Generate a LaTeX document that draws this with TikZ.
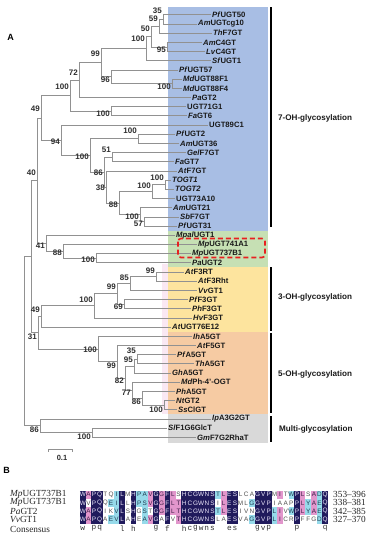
\documentclass[tikz,border=0pt]{standalone}
\usepackage{fontspec}
\setmainfont{Liberation Sans}
\newfontfamily\alnfont{Liberation Serif}
\newfontfamily\cnsfont{Liberation Mono}
\usetikzlibrary{calc}
\definecolor{brc}{RGB}{145,145,145}
\definecolor{leafc}{RGB}{25,25,25}
\definecolor{bsc}{RGB}{45,45,45}
\definecolor{bgblue}{RGB}{168,190,228}
\definecolor{bggreen}{RGB}{198,224,180}
\definecolor{bgyellow}{RGB}{253,228,158}
\definecolor{bgpeach}{RGB}{246,203,163}
\definecolor{bggray}{RGB}{217,217,217}
\definecolor{bgpink}{RGB}{250,232,243}
\definecolor{boxred}{RGB}{232,32,32}
\definecolor{fN}{RGB}{32,26,92}
\definecolor{fP}{RGB}{226,150,204}
\definecolor{fC}{RGB}{150,218,234}
\definecolor{fW}{RGB}{255,255,255}
\definecolor{tN}{RGB}{235,230,250}
\definecolor{tP}{RGB}{60,30,70}
\definecolor{tC}{RGB}{30,60,80}
\definecolor{tW}{RGB}{80,80,80}
\newcommand\spc[1]{\textit{#1}}
\newcommand\inode[4]{\path let \p1=(#3), \p2=(#4) in ({#2pt},{0.5*\y1+0.5*\y2}) coordinate (#1);}
\newcommand\trnode[4]{\inode{#1}{#2}{#3}{#4}\draw[br] (#1) |- (#3) (#1) |- (#4);}
\newcommand\leafn[4]{\coordinate (l#1) at (#2,#3); \node[leaf] (t#1) at (l#1) {#4};}
\newcommand\bsl[4]{\node[bs] (b#1) at (#2 |- 0,#3) {#4};}
\newcommand\alnrow[3]{%
  \foreach \resl/\resc [count=\resi] in {#3}{%
    \fill[f\resc] ({80+(\resi-1)*5.636},#2) rectangle ({80+\resi*5.636+0.12},{#2+8.37});
    \node[res, text=t\resc] (a#1c\resi) at ({80+(\resi-0.5)*5.636},{#2+4.2}) {\resl};
  }}
\begin{document}
\begin{tikzpicture}[x=1pt,y=-1pt,
  br/.style={draw=brc,line width=0.75pt},
  leaf/.style={anchor=west,inner sep=0pt,xshift=1pt,text=leafc,font=\fontsize{7.7}{8}\selectfont\bfseries},
  bs/.style={anchor=east,inner sep=0pt,xshift=-1pt,text=bsc,font=\fontsize{8}{8}\selectfont\bfseries},
  grp/.style={anchor=west,inner sep=0pt,text=leafc,font=\fontsize{8.1}{9}\selectfont\bfseries},
  bar/.style={fill=black},
  res/.style={inner sep=0pt,anchor=center,font=\fontsize{6.4}{6.4}\selectfont},
  alnlab/.style={anchor=west,inner sep=0pt,text=black!85,font=\alnfont\fontsize{9.3}{9.5}\selectfont},
  cns/.style={inner sep=0pt,anchor=center,text=black!80,font=\cnsfont\fontsize{7.8}{8}\selectfont}]
\useasboundingbox (0,0) rectangle (373,550);
\fill[white] (0,0) rectangle (373,550);
% coloured bands
\fill[bgblue] (168,7.3) rectangle (268,230.6);
\fill[bggreen] (168,230.6) rectangle (268,267.4);
\fill[bgyellow] (168,267.4) rectangle (268,331.7);
\fill[bgpeach] (168,331.7) rectangle (268,414.4);
\fill[bggray] (168,414.4) rectangle (268,443);
\fill[bgpink] (162,264) rectangle (168,414.4);
% group bars
\fill[bar] (269.5,7.3) rectangle (271.5,227);
\fill[bar] (269.5,267.4) rectangle (271.5,330.5);
\fill[bar] (269.5,333) rectangle (271.5,413);
\fill[bar] (269.5,416) rectangle (271.5,442);
\node[grp] (g7) at (278,118) {7-OH-glycosylation};
\node[grp] (g3) at (278,297) {3-OH-glycosylation};
\node[grp] (g5) at (278,374) {5-OH-glycosylation};
\node[grp] (gm) at (279,429) {Multi-glycosylation};
% leaves
\leafn{1}{211}{14.8}{\spc{Pf}UGT50}
\leafn{2}{197}{24.0}{\spc{Am}UGTcg10}
\leafn{3}{212}{33.2}{\spc{Th}F7GT}
\leafn{4}{202}{42.4}{\spc{Am}C4GT}
\leafn{5}{205}{51.5}{\spc{Lv}C4GT}
\leafn{6}{211}{60.7}{\spc{Sf}UGT1}
\leafn{7}{178}{69.9}{\spc{Pf}UGT57}
\leafn{8}{182}{79.1}{\spc{Md}UGT88F1}
\leafn{9}{182}{88.3}{\spc{Md}UGT88F4}
\leafn{10}{191}{97.5}{\spc{Pa}GT2}
\leafn{11}{186}{106.7}{UGT71G1}
\leafn{12}{187}{115.8}{\spc{Fa}GT6}
\leafn{13}{208}{125.0}{UGT89C1}
\leafn{14}{175}{134.2}{\spc{Pf}UGT2}
\leafn{15}{179}{143.4}{\spc{Am}UGT36}
\leafn{16}{186}{152.6}{\spc{Gel}F7GT}
\leafn{17}{174}{161.8}{\spc{Fa}GT7}
\leafn{18}{177}{170.9}{\spc{At}F7GT}
\leafn{19}{171}{180.1}{\spc{TOGT1}}
\leafn{20}{174}{189.3}{\spc{TOGT2}}
\leafn{21}{175}{198.5}{UGT73A10}
\leafn{22}{172}{207.7}{\spc{Am}UGT21}
\leafn{23}{179}{216.9}{\spc{Sb}F7GT}
\leafn{24}{177}{226.1}{\spc{Pf}UGT31}
\leafn{25}{175}{235.2}{\spc{Mpal}UGT1}
\leafn{26}{197}{244.4}{\spc{Mp}UGT741A1}
\leafn{27}{191}{253.6}{\spc{Mp}UGT737B1}
\leafn{28}{191}{262.8}{\spc{Pa}UGT2}
\leafn{29}{184}{272.0}{\spc{At}F3RT}
\leafn{30}{197}{281.2}{\spc{At}F3Rht}
\leafn{31}{197}{290.4}{\spc{Vv}GT1}
\leafn{32}{188}{299.5}{\spc{Pf}F3GT}
\leafn{33}{191}{308.7}{\spc{Ph}F3GT}
\leafn{34}{192}{317.9}{\spc{Hv}F3GT}
\leafn{35}{171}{327.1}{\spc{At}UGT76E12}
\leafn{36}{192}{336.3}{\spc{Ih}A5GT}
\leafn{37}{196}{345.5}{\spc{At}F5GT}
\leafn{38}{176}{354.7}{\spc{Pf}A5GT}
\leafn{39}{194}{363.8}{\spc{Th}A5GT}
\leafn{40}{171}{373.0}{\spc{Gh}A5GT}
\leafn{41}{180}{382.2}{\spc{Md}Ph-4’-OGT}
\leafn{42}{175}{391.4}{\spc{Ph}A5GT}
\leafn{43}{175}{400.6}{\spc{Nt}GT2}
\leafn{44}{177}{409.8}{\spc{Ss}ClGT}
\leafn{45}{211}{419.0}{\spc{Ip}A3G2GT}
\leafn{46}{167}{428.1}{\spc{Sl}F1G6GlcT}
\leafn{47}{196}{437.3}{\spc{Gm}F7G2RhaT}
% tree
\trnode{n35}{163}{l1}{l2}
\trnode{n59}{159}{n35}{l3}
\trnode{n95a}{167}{l4}{l5}
\trnode{n50}{151}{n59}{n95a}
\trnode{n100a}{146}{n50}{l6}
\trnode{n100b}{172}{l8}{l9}
\trnode{n96}{111}{l7}{n100b}
\trnode{n99a}{101}{n100a}{n96}
\trnode{n72}{79}{n99a}{l10}
\trnode{n100d}{111}{l11}{l12}
\trnode{n100c}{70}{n72}{n100d}
\trnode{n100f}{138}{l14}{l15}
\trnode{n51}{112}{l16}{l17}
\trnode{n100g}{165}{l19}{l20}
\trnode{n100h}{152}{n100g}{l21}
\trnode{n57}{144}{l23}{l24}
\trnode{n100i}{140}{l22}{n57}
\trnode{n88}{119}{n100h}{n100i}
\trnode{n38}{106}{l18}{n88}
\trnode{n86}{104}{n51}{n38}
\trnode{n100e}{90}{n100f}{n86}
\trnode{n94}{61}{l13}{n100e}
\trnode{n49}{41}{n100c}{n94}
\trnode{n100j}{96}{l27}{l28}
\trnode{n88b}{63}{l26}{n100j}
\trnode{n41}{46}{l25}{n88b}
\trnode{na40}{37}{n49}{n41}
\trnode{n99x}{156}{l29}{l30}
\trnode{n85}{130}{n99x}{l31}
\trnode{n69}{124}{l32}{l33}
\trnode{n99b}{117}{n85}{n69}
\trnode{n100o}{94}{n99b}{l34}
\trnode{n49b}{41}{n100o}{l35}
\trnode{n35b}{137}{l38}{l39}
\trnode{n95}{134}{n35b}{l40}
\trnode{n100k}{164}{l43}{l44}
\trnode{n86b}{142}{l42}{n100k}
\trnode{n77}{132}{l41}{n86b}
\trnode{n82}{125}{n95}{n77}
\trnode{n99c}{117}{l37}{n82}
\trnode{n100p}{98}{l36}{n99c}
\trnode{n31}{38}{n49b}{n100p}
\trnode{nb}{31}{na40}{n31}
\trnode{n100m}{92}{l46}{l47}
\trnode{n86c}{40}{l45}{n100m}
\trnode{root}{24}{nb}{n86c}
% bootstrap values
\bsl{1}{n35}{10.7}{35}
\bsl{2}{n59}{19}{59}
\bsl{3}{n50}{29}{50}
\bsl{4}{n100a}{39}{100}
\bsl{5}{n95a}{50}{95}
\bsl{6}{n99a}{54}{99}
\bsl{7}{n96}{80}{96}
\bsl{8}{n100b}{87}{100}
\bsl{9}{n72}{73}{72}
\bsl{10}{n100c}{87}{100}
\bsl{11}{n100d}{113.5}{100}
\bsl{12}{n49}{109}{49}
\bsl{13}{n94}{142}{94}
\bsl{14}{n100f}{131}{100}
\bsl{15}{n100e}{157}{100}
\bsl{16}{n51}{150}{51}
\bsl{17}{n86}{173}{86}
\bsl{18}{n38}{188}{38}
\bsl{19}{n88}{205}{88}
\bsl{20}{n100g}{178}{100}
\bsl{21}{n100h}{186}{100}
\bsl{22}{n100i}{217}{100}
\bsl{23}{n57}{224}{57}
\bsl{24}{na40}{173}{40}
\bsl{25}{n41}{246}{41}
\bsl{26}{n88b}{253}{88}
\bsl{27}{n100j}{260}{100}
\bsl{28}{n99x}{271}{99}
\bsl{29}{n85}{278}{85}
\bsl{30}{n99b}{287}{99}
\bsl{31}{n69}{307}{69}
\bsl{32}{n100o}{300}{100}
\bsl{33}{n49b}{310}{49}
\bsl{34}{n31}{337}{31}
\bsl{35}{n100p}{350}{100}
\bsl{36}{n35b}{350.3}{35}
\bsl{37}{n95}{359.6}{95}
\bsl{38}{n99c}{366}{99}
\bsl{39}{n82}{381}{82}
\bsl{40}{n77}{393}{77}
\bsl{41}{n86b}{402}{86}
\bsl{42}{n100k}{410}{100}
\bsl{43}{n86c}{430}{86}
\bsl{44}{n100m}{437}{100}
% red dashed box
\draw[boxred,line width=1.6pt,dash pattern=on 5pt off 3pt,rounded corners=3pt] (178,238.5) rectangle (265,257.5);
% scale bar
\coordinate (sb1) at (48,449);
\coordinate (sb2) at (72,449);
\draw[br] ([yshift=-2.5pt]sb1) -- (sb1) -- (sb2) -- ([yshift=-2.5pt]sb2);
\node[inner sep=0pt,text=bsc,font=\fontsize{7.5}{8}\selectfont\bfseries] (sbl) at (62,457.5) {0.1};
% panel letters
\node[inner sep=0pt,font=\fontsize{9}{9}\selectfont\bfseries] (pA) at (10.5,37.5) {A};
\node[inner sep=0pt,font=\fontsize{9}{9}\selectfont\bfseries] (pB) at (6.5,470) {B};
% alignment
\alnrow{1}{490.5}{W/N,A/P,P/N,Q/N,T/W,Q/W,I/C,L/N,M/W,H/N,P/C,A/C,V/P,G/N,G/P,F/N,L/P,S/W,H/N,C/N,G/N,W/N,N/N,S/N,T/C,L/P,E/N,S/N,L/W,C/W,A/W,G/N,V/N,P/N,M/W,I/P,T/W,W/C,P/N,L/P,S/W,A/P,D/C,Q/N}
\alnrow{2}{498.75}{W/N,V/W,P/N,Q/N,Q/W,E/C,I/C,L/N,L/W,H/N,P/C,S/C,V/P,G/N,G/P,F/N,L/P,T/P,H/N,C/N,G/N,W/N,N/N,S/N,I/W,L/P,E/N,S/N,M/W,L/W,G/C,G/N,V/N,P/N,I/W,A/W,A/W,P/W,P/N,L/P,Y/C,A/P,E/C,Q/N}
\alnrow{3}{507}{W/N,A/P,P/N,Q/N,I/W,K/W,V/C,L/N,S/W,H/N,G/W,S/C,T/W,G/N,G/P,F/N,L/P,T/P,H/N,C/N,G/N,W/N,N/N,S/N,T/C,L/P,E/N,S/N,I/W,V/W,N/W,G/N,V/N,P/N,L/C,I/P,V/W,W/C,P/N,L/P,Y/C,A/P,E/C,Q/N}
\alnrow{4}{515.25}{W/N,A/P,P/N,Q/N,A/W,E/C,V/C,L/N,A/W,H/N,E/W,A/C,V/P,G/N,A/W,F/N,V/W,T/P,H/N,C/N,G/N,W/N,N/N,S/N,L/W,A/W,E/N,S/N,V/W,A/W,G/C,G/N,V/N,P/N,L/C,I/P,C/W,R/W,P/N,F/W,F/W,G/W,D/C,Q/N}
\node[alnlab] (rl1) at (10,494.7) {\textit{Mp}UGT737B1};
\node[alnlab] (rl2) at (10,502.9) {\textit{Mp}UGT737B1};
\node[alnlab] (rl3) at (10,511.2) {\textit{Pa}GT2};
\node[alnlab] (rl4) at (10,519.4) {\textit{Vv}GT1};
\node[alnlab] (rl5) at (10,529) {Consensus};
\node[alnlab] (nr1) at (333,494.7) {353–396};
\node[alnlab] (nr2) at (333,502.9) {338–381};
\node[alnlab] (nr3) at (333,511.2) {342–385};
\node[alnlab] (nr4) at (333,519.4) {327–370};
\foreach \cl/\ci in {w/1,p/3,q/4,l/8,h/10,g/14,f/16,h/19,c/20,g/21,w/22,n/23,s/24,e/27,s/28,g/32,v/33,p/34,p/39,q/44}{
  \node[cns] (cs\ci) at ({80+(\ci-0.5)*5.636},528.5) {\cl};
}
\end{tikzpicture}
\end{document}
